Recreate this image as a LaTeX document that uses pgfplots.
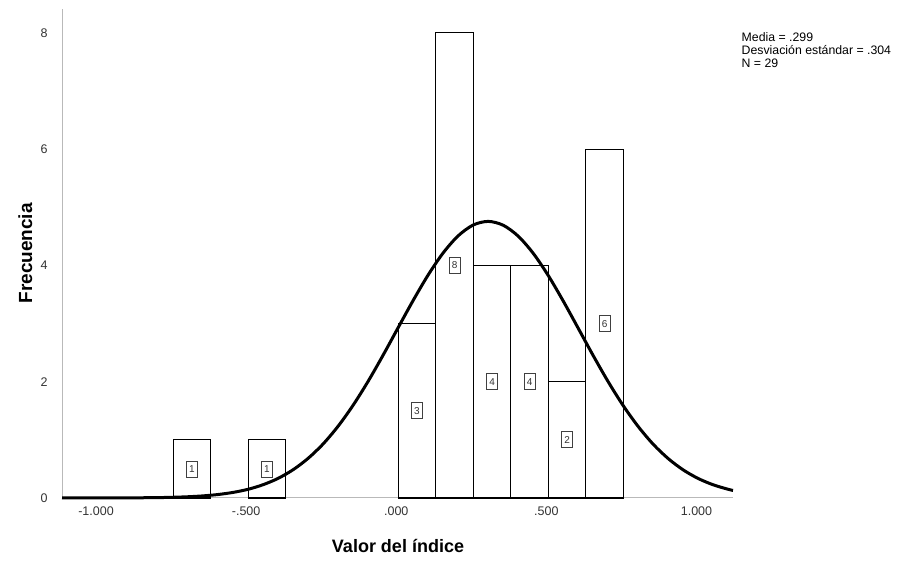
\documentclass[border=0pt]{standalone}
\usepackage{pgfplots}
\pgfplotsset{compat=1.18}
\usepackage{fontspec}
\setmainfont{Liberation Sans}
\begin{document}
\begin{tikzpicture}[x=1pt,y=1pt]
\path[use as bounding box] (0,0) rectangle (899,561);
\begin{axis}[
 at={(62pt,63pt)}, anchor=south west,
 width=671pt, height=489pt, scale only axis,
 xmin=-1.12, xmax=1.115, ymin=0, ymax=8.41,
 axis x line*=bottom, axis y line*=left,
 axis line style={draw=gray!55, line width=1pt},
 major tick length=0pt,
 xtick={-1,-0.5,0,0.5,1},
 xticklabels={-1.000,-.500,.000,.500,1.000},
 ytick={0,2,4,6,8},
 /pgf/number format/assume math mode=true,
 tick label style={font=\fontsize{12.5}{14}\selectfont, text=black!80},
 xticklabel style={yshift=-5pt, xshift=-2pt},
 yticklabel style={xshift=-11pt},
 clip=false,
]
\addplot[ybar interval, fill=white, draw=black, line width=1.1pt] coordinates {(-0.75,1)(-0.625,1)};
\addplot[ybar interval, fill=white, draw=black, line width=1.1pt] coordinates {(-0.5,1)(-0.375,1)};
\addplot[ybar interval, fill=white, draw=black, line width=1.1pt] coordinates {(0,3)(0.125,8)(0.25,4)(0.375,4)(0.5,2)(0.625,6)(0.75,6)};
\addplot[black, line width=3pt, smooth] coordinates {
(-1.12,0.0001)(-1.1,0.0001)(-1.0,0.0005)(-0.9,0.002)(-0.8,0.0069)(-0.75,0.0123)(-0.7,0.0215)(-0.65,0.0364)(-0.6,0.060)(-0.55,0.0963)(-0.5,0.150)(-0.45,0.229)(-0.4,0.338)(-0.35,0.487)(-0.3,0.683)(-0.25,0.931)(-0.2,1.237)(-0.15,1.598)(-0.1,2.010)(-0.05,2.461)(0,2.933)(0.05,3.401)(0.1,3.839)(0.15,4.218)(0.2,4.511)(0.25,4.696)(0.3,4.757)(0.35,4.690)(0.4,4.501)(0.45,4.205)(0.5,3.823)(0.55,3.383)(0.6,2.914)(0.65,2.443)(0.7,1.993)(0.75,1.583)(0.8,1.224)(0.85,0.920)(0.9,0.674)(0.95,0.480)(1.0,0.333)(1.05,0.225)(1.1,0.148)(1.115,0.130)};
\addplot[draw=none, mark=none, point meta=explicit,
 nodes near coords={\pgfmathprintnumber[assume math mode=true]{\pgfplotspointmeta}},
 nodes near coords style={anchor=center, draw=black!75, fill=white, line width=0.8pt, inner sep=0pt, minimum width=11pt, minimum height=16pt, font=\fontsize{10}{11}\selectfont, text=black!80}]
 coordinates {(-0.6875,0.5)[1] (-0.4375,0.5)[1] (0.0625,1.5)[3] (0.1875,4)[8] (0.3125,2)[4] (0.4375,2)[4] (0.5625,1)[2] (0.6875,3)[6]};
\end{axis}
\node[anchor=base, inner sep=0pt, font=\bfseries\fontsize{18}{20}\selectfont] at (398,8) {Valor del índice};
\node[rotate=90, anchor=base, inner sep=0pt, font=\bfseries\fontsize{19}{21}\selectfont] at (32,307.6) {Frecuencia};
\node[anchor=north west, align=left, inner sep=0pt, font=\fontsize{12.3}{13}\selectfont] at (741.5,529) {Media = .299\\Desviación estándar = .304\\N = 29};
\end{tikzpicture}
\end{document}
